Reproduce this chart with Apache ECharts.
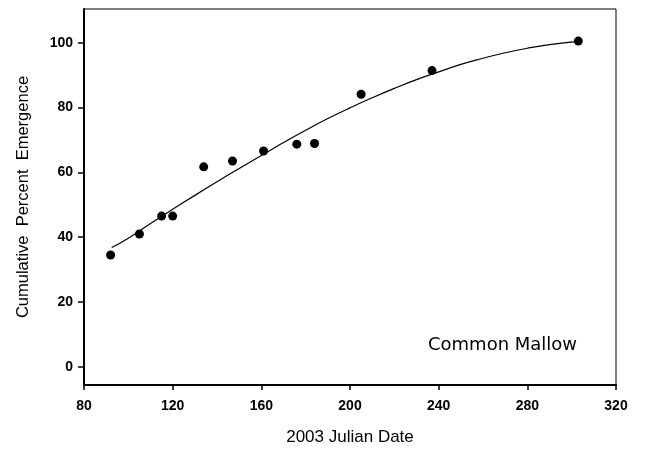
<!DOCTYPE html>
<html lang="en" style="height: 100%">
<head>
  <meta charset="utf-8">
</head>
<body style="height: 100%; margin: 0; background: #fff">
  <div id="container" style="height: 100%"></div>

  <script type="text/javascript" src="https://cdn.jsdelivr.net/npm/echarts@6/dist/echarts.min.js"></script>

  <script type="text/javascript">
    // observed emergence (Julian day, cumulative %)
    var obsDay = [92, 105, 115, 120, 134, 147, 161, 176, 184, 205, 237, 303];
    var obsPct = [34.5, 41.0, 46.5, 46.5, 61.7, 63.5, 66.6, 68.7, 68.9, 84.1, 91.4, 100.5];

    // fitted curve
    var fitDay = [92.5, 100, 110, 120, 130, 140, 150, 160, 170, 180, 190, 200, 210, 220, 230, 240, 250, 260, 270, 280, 290, 303];
    var fitPct = [36.8, 39.7, 44.2, 48.6, 52.9, 57.1, 61.2, 65.2, 69.2, 73.0, 76.6, 79.9, 83.0, 85.9, 88.6, 91.0, 93.3, 95.2, 96.9, 98.3, 99.4, 100.4];

    var yTicks = [0, 20, 40, 60, 80, 100];

    var dom = document.getElementById('container');
    var myChart = echarts.init(dom, null, { renderer: 'canvas' });
    var font = 'Liberation Sans, Arial, sans-serif';

    var option = {
      backgroundColor: '#fff',
      animation: false,
      grid: {
        left: 84,
        right: 29,
        top: 9,
        bottom: 67,
        containLabel: false,
        outerBoundsMode: 'none',
        show: true,
        borderColor: '#000',
        borderWidth: 1
      },
      title: {
        text: 'Common Mallow',
        left: 423,
        top: 331,
        textStyle: { fontFamily: 'DejaVu Sans', fontWeight: 'normal', fontSize: 18, color: '#000' }
      },
      xAxis: {
        type: 'value',
        min: 80,
        max: 320,
        interval: 40,
        name: '2003 Julian Date',
        nameLocation: 'middle',
        nameGap: 44,
        nameTextStyle: { fontFamily: font, fontSize: 17, color: '#000' },
        axisLine: { onZero: false, lineStyle: { color: '#000', width: 2 } },
        axisTick: { length: 5, lineStyle: { color: '#000', width: 1.5 } },
        axisLabel: { margin: 14, fontFamily: font, fontSize: 14, fontWeight: 'bold', color: '#000' },
        splitLine: { show: false }
      },
      yAxis: {
        type: 'value',
        min: -5.6,
        max: 110.4,
        name: 'Cumulative  Percent  Emergence',
        nameLocation: 'middle',
        nameGap: 52,
        nameTextStyle: { fontFamily: font, fontSize: 16.5, color: '#000' },
        axisLine: { show: true, onZero: false, lineStyle: { color: '#000', width: 2 } },
        axisTick: { show: true, length: 6, customValues: yTicks, lineStyle: { color: '#000', width: 1.5 } },
        axisLabel: { margin: 11, customValues: yTicks, fontFamily: font, fontSize: 14, fontWeight: 'bold', color: '#000' },
        splitLine: { show: false }
      },
      series: [
        {
          type: 'line',
          data: fitDay.map(function (d, i) { return [d, fitPct[i]]; }),
          smooth: true,
          showSymbol: false,
          lineStyle: { color: '#000', width: 1.2 },
          z: 2
        },
        {
          type: 'scatter',
          data: obsDay.map(function (d, i) { return [d, obsPct[i]]; }),
          symbol: 'circle',
          symbolSize: 9,
          itemStyle: { color: '#000', opacity: 1 },
          z: 3
        }
      ]
    };

    myChart.setOption(option);
    window.addEventListener('resize', myChart.resize);
  </script>
</body>
</html>
